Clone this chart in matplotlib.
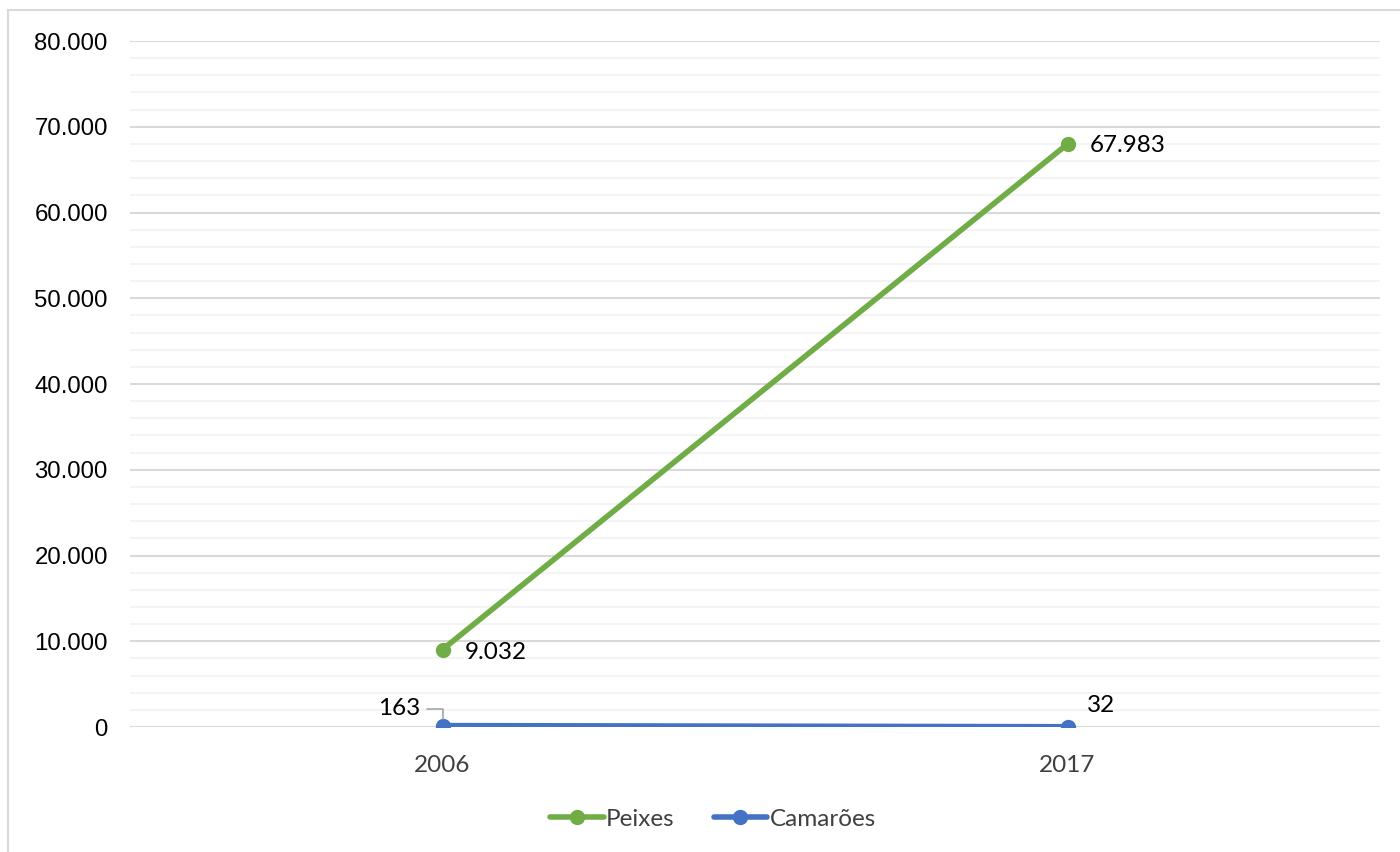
import matplotlib
matplotlib.use("Agg")
import matplotlib.pyplot as plt
from matplotlib.ticker import FuncFormatter, MultipleLocator
from matplotlib.patches import Rectangle

years = ["2006", "2017"]
peixes = [9032, 67983]
camaroes = [163, 32]

GREEN = "#70AD47"
BLUE = "#4472C4"


def fmt_br(v, pos=None):
    return f"{int(round(v)):,}".replace(",", ".")


fig = plt.figure(figsize=(14, 8.52), dpi=100)
ax = fig.add_axes([130 / 1400, 1 - 727 / 852, 1250 / 1400, (727 - 41) / 852])

# outer chart border (cropped on right/bottom)
fig.patches.append(Rectangle((8 / 1400, -0.05), 1.2, 1 - 10 / 852 + 0.05,
                             transform=fig.transFigure, fill=False,
                             edgecolor="#D9D9D9", linewidth=1.5))

x = list(range(len(years)))
ax.plot(x, peixes, color=GREEN, linewidth=4, marker="o", markersize=10,
        label="Peixes", solid_capstyle="round", zorder=3)
ax.plot(x, camaroes, color=BLUE, linewidth=4, marker="o", markersize=10,
        label="Camarões", solid_capstyle="round", zorder=3)

ax.set_xlim(-0.5, 1.5)
ax.set_ylim(0, 80000)
ax.yaxis.set_major_locator(MultipleLocator(10000))
ax.yaxis.set_minor_locator(MultipleLocator(2000))
ax.yaxis.set_major_formatter(FuncFormatter(fmt_br))
ax.grid(axis="y", which="major", color="#D9D9D9", linewidth=1.5, zorder=0)
ax.grid(axis="y", which="minor", color="#F2F2F2", linewidth=1.2, zorder=0)
ax.set_axisbelow(True)
for s in ax.spines.values():
    s.set_visible(False)
ax.tick_params(axis="both", which="both", length=0)
ax.tick_params(axis="y", labelsize=17.3, pad=16, labelcolor="black")
ax.set_xticks(x)
ax.set_xticklabels(years, fontsize=17.5, color="#404040", family="Lato")
ax.tick_params(axis="x", pad=20)
for lab in ax.get_yticklabels():
    lab.set_family("Liberation Sans")

lbl = dict(fontsize=17.5, family="Lato", color="black")
ax.annotate(fmt_br(peixes[0]), (x[0], peixes[0]), xytext=(16, -2),
            textcoords="offset points", ha="left", va="center", **lbl)
ax.annotate(fmt_br(peixes[1]), (x[1], peixes[1]), xytext=(16, -1),
            textcoords="offset points", ha="left", va="center", **lbl)
ax.annotate(fmt_br(camaroes[1]), (x[1], camaroes[1]), xytext=(14, 15),
            textcoords="offset points", ha="left", va="center", **lbl)
ax.annotate(fmt_br(camaroes[0]), (x[0], camaroes[0]), xytext=(-16, 12),
            textcoords="offset points", ha="right", va="center",
            arrowprops=dict(arrowstyle="-", color="#A6A6A6", lw=1.2,
                            connectionstyle="angle,angleA=0,angleB=90,rad=0",
                            shrinkA=3, shrinkB=5), **lbl)

leg = fig.legend(loc="center", bbox_to_anchor=(713 / 1400, 1 - 819 / 852),
                 ncol=2, frameon=False, prop={"family": "Lato", "size": 17.5},
                 handlelength=2.2, columnspacing=1.6, handletextpad=0.1)
for t in leg.get_texts():
    t.set_color("#404040")

fig.savefig("out.png", dpi=100)
